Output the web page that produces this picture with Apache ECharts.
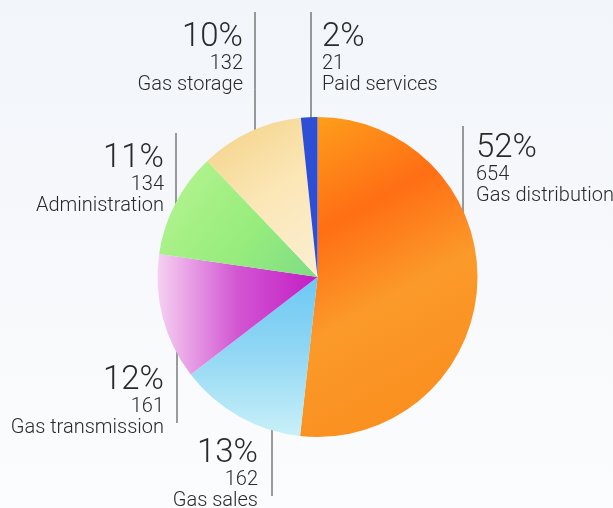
<!DOCTYPE html>
<html>
<head>
<meta charset="utf-8">
<script src="https://cdn.jsdelivr.net/npm/echarts@6/dist/echarts.min.js"></script>
<style>
  html, body { margin: 0; padding: 0; }
  #chart { width: 613px; height: 508px; }
</style>
</head>
<body>
<div id="chart"></div>
<script>
// data
const categories = ['Gas distribution', 'Gas sales', 'Gas transmission', 'Administration', 'Gas storage', 'Paid services']
const values = [654, 162, 161, 134, 132, 21]
const percentLabels = ['52%', '13%', '12%', '11%', '10%', '2%']

// slice fills (watercolor look approximated with gradients)
const G = echarts.graphic.LinearGradient
const fills = [
  new G(0, 0, 1, 1, [
    { offset: 0, color: '#fda21c' },
    { offset: 0.3, color: '#ff6e14' },
    { offset: 0.55, color: '#fb9a2a' },
    { offset: 1, color: '#f98a1a' }
  ]),
  new G(0, 0, 0, 1, [
    { offset: 0, color: '#6cc8f4' },
    { offset: 0.45, color: '#8fd6f4' },
    { offset: 1, color: '#c8f0f8' }
  ]),
  new G(0, 0, 1, 0, [
    { offset: 0, color: '#f6d0f2' },
    { offset: 0.5, color: '#d256d2' },
    { offset: 1, color: '#c21cc4' }
  ]),
  new G(0, 0, 1, 1, [
    { offset: 0, color: '#b8f592' },
    { offset: 0.6, color: '#96ec7c' },
    { offset: 1, color: '#7edc86' }
  ]),
  new G(0, 0, 1, 1, [
    { offset: 0, color: '#f4d184' },
    { offset: 0.5, color: '#fbe6b6' },
    { offset: 1, color: '#fbefd2' }
  ]),
  '#2c4fd6'
]

// label placement (text anchor + vertical leader line)
const labelPos = [
  { x: 476, y: 134, align: 'left', lx: 463, y1: 126, y2: 282 },
  { x: 258, y: 439, align: 'right', lx: 272, y1: 372, y2: 496 },
  { x: 164, y: 366, align: 'right', lx: 177, y1: 310, y2: 423 },
  { x: 164, y: 144, align: 'right', lx: 176, y1: 133, y2: 233 },
  { x: 243, y: 23, align: 'right', lx: 255, y1: 12, y2: 167 },
  { x: 322, y: 23, align: 'left', lx: 311, y1: 12, y2: 138 }
]

const chart = echarts.init(document.getElementById('chart'))
const font = 'Roboto, "DejaVu Sans", sans-serif'
const option = {
  backgroundColor: new G(0, 0, 0, 1, [
    { offset: 0, color: '#f2f5fa' },
    { offset: 1, color: '#fbfcfd' }
  ]),
  animation: false,
  series: [
    {
      type: 'pie',
      center: [317.5, 277],
      radius: 160,
      startAngle: 90,
      clockwise: true,
      avoidLabelOverlap: false,
      itemStyle: { borderWidth: 0 },
      label: {
        show: true,
        position: 'outside',
        overflow: 'none',
        color: '#2a2a2a',
        fontFamily: font,
        formatter: (p) => '{p|' + percentLabels[p.dataIndex] + '}\n{v|' + p.value + '}\n{n|' + p.name + '}',
        rich: {
          p: { fontSize: 33, lineHeight: 30, fontWeight: 300, fontFamily: font, color: '#2a2a2a' },
          v: { fontSize: 20, lineHeight: 21, fontWeight: 300, fontFamily: font, color: '#2a2a2a' },
          n: { fontSize: 20, lineHeight: 21, fontWeight: 300, fontFamily: font, color: '#2a2a2a' }
        }
      },
      labelLine: {
        show: true,
        lineStyle: { color: '#3a3a3a', width: 1 }
      },
      labelLayout: (params) => {
        const l = labelPos[params.dataIndex]
        return {
          x: l.x,
          y: l.y,
          align: l.align,
          verticalAlign: 'top',
          labelLinePoints: [[l.lx, l.y1], [l.lx, (l.y1 + l.y2) / 2], [l.lx, l.y2]]
        }
      },
      data: categories.map((name, i) => ({
        name,
        value: values[i],
        itemStyle: { color: fills[i] }
      }))
    }
  ]
}
chart.setOption(option)
</script>
</body>
</html>
